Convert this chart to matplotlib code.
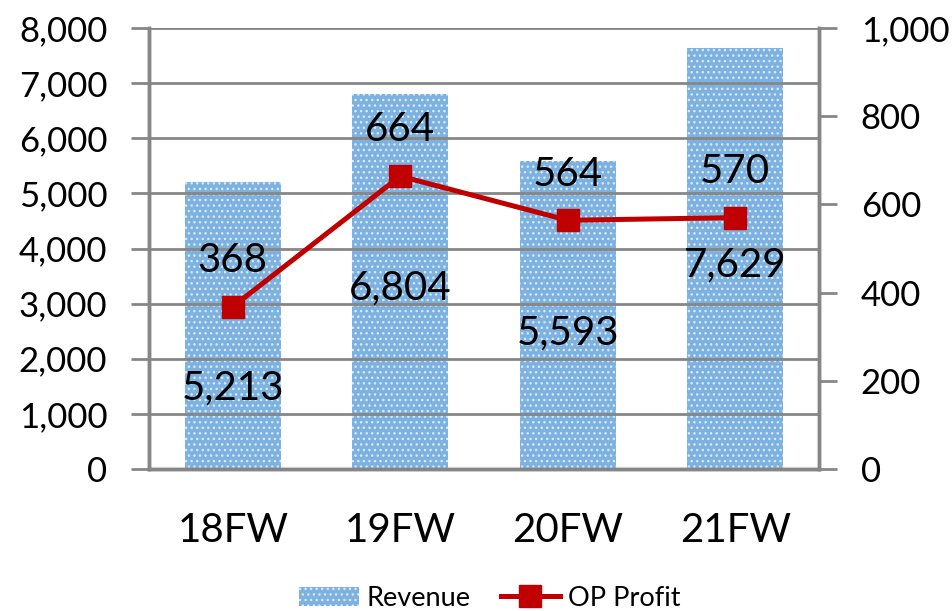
import matplotlib.pyplot as plt
from matplotlib.ticker import FuncFormatter

# chart data
years = ['18FW', '19FW', '20FW', '21FW']
revenue = [5213, 6804, 5593, 7629]
op_profit = [368, 664, 564, 570]

# baseline of each revenue label (left axis units)
rev_label_y = [1270, 3075, 2258, 3492]

plt.rcParams['font.family'] = ['Lato', 'DejaVu Sans']

fig = plt.figure(figsize=(9.52, 6.11), dpi=100)
ax = fig.add_axes([149/952, 1 - 469/611, 670/952, 441/611])
ax2 = ax.twinx()

gray = '#868686'
x = range(len(years))

# bars with a dotted fill
ax.bar(x, revenue, width=0.575, color='#7db1e0', hatch='...', edgecolor='#d8e9f8',
       linewidth=0, zorder=1, label='Revenue')
ax.set_ylim(0, 8000)
ax.set_xlim(-0.5, 3.5)
ax.set_yticks(range(0, 8001, 1000))
ax.yaxis.set_major_formatter(FuncFormatter(lambda v, p: f'{int(v):,}'))
ax.yaxis.grid(True, color=gray, linewidth=2, zorder=2)
ax.set_axisbelow(False)
ax.set_xticks(list(x))
ax.set_xticklabels(years, fontsize=29)
ax.tick_params(axis='x', length=0, pad=31)
ax.tick_params(axis='y', labelsize=25, length=13, width=2, color=gray, pad=17)

for i, v in enumerate(revenue):
    ax.text(i, rev_label_y[i], f'{v:,}', ha='center', va='baseline', fontsize=29, zorder=5)

# profit line on the right axis
ax2.plot(x, op_profit, color='#c00000', linewidth=3.6, marker='s', markersize=16,
         zorder=4, label='OP Profit')
ax2.set_ylim(0, 1000)
ax2.set_yticks(range(0, 1001, 200))
ax2.yaxis.set_major_formatter(FuncFormatter(lambda v, p: f'{int(v):,}'))
ax2.tick_params(axis='y', labelsize=25, length=13, width=2, color=gray, pad=17)

for i, v in enumerate(op_profit):
    ax2.annotate(str(v), (i, v), xytext=(0, 25), textcoords='offset points',
                 ha='center', va='baseline', fontsize=29)

for a in (ax, ax2):
    a.spines['top'].set_visible(False)
    for s in ('left', 'right', 'bottom'):
        a.spines[s].set_color(gray)
        a.spines[s].set_linewidth(2.5)

h1, l1 = ax.get_legend_handles_labels()
h2, l2 = ax2.get_legend_handles_labels()
fig.legend(h1 + h2, l1 + l2, loc='center', bbox_to_anchor=(490/952, 1 - 598/611),
           ncol=2, frameon=False, fontsize=19.5, handlelength=2.2, columnspacing=1.1,
           handletextpad=0.3, borderpad=0.1)

fig.savefig('out.png', dpi=100)
